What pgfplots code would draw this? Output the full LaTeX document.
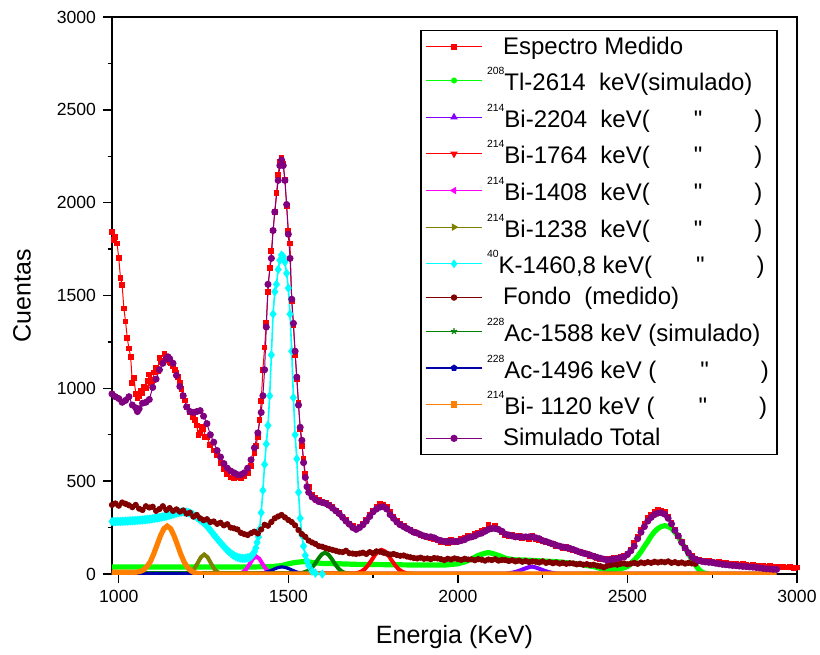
\documentclass[border=0pt]{standalone}
\usepackage{fontspec}
\setmainfont{Liberation Sans}
\setmonofont{Liberation Sans}
\usepackage{pgfplots}
\pgfplotsset{compat=1.18}
\definecolor{cRed}{RGB}{255,0,0}
\definecolor{cGreen}{RGB}{0,255,0}
\definecolor{cViolet}{RGB}{128,0,255}
\definecolor{cMagenta}{RGB}{255,0,255}
\definecolor{cOlive}{RGB}{128,128,0}
\definecolor{cCyan}{RGB}{0,255,255}
\definecolor{cMaroon}{RGB}{128,0,0}
\definecolor{cDkGreen}{RGB}{0,128,0}
\definecolor{cNavy}{RGB}{0,0,170}
\definecolor{cOrange}{RGB}{255,128,0}
\definecolor{cPurple}{RGB}{128,0,128}
\newcommand\iso[1]{\raisebox{8pt}{\fontsize{5.2}{6}\selectfont #1}}
\newcommand\q{\hspace{22pt}\texttt{"}\hspace{26pt})}
\begin{document}
\begin{tikzpicture}
\begin{axis}[
    scale only axis, width=342.5pt, height=278.5pt,
    xmin=980, xmax=3000, ymin=0, ymax=3000,
    xtick={1000,1500,2000,2500,3000}, ytick={0,500,1000,1500,2000,2500,3000},
    minor x tick num=1, minor y tick num=1,
    tick pos=left, tick align=outside,
    major tick length=4.5pt, minor tick length=2.2pt,
    every tick/.style={black, line width=0.7pt},
    axis line style={line width=0.8pt},
    /pgf/number format/assume math mode=true,
    /pgf/number format/1000 sep={},
    ticklabel style={font=\fontsize{8.8}{10}\selectfont},
    xlabel={Energia (KeV)}, ylabel={Cuentas},
    every axis x label/.style={at={(axis description cs:0.5,0)}, yshift=-31.5pt, anchor=center,
        font=\fontsize{12.5}{15}\selectfont},
    every axis y label/.style={at={(axis description cs:0,0.5)}, xshift=-45pt, rotate=90, anchor=center,
        font=\fontsize{12.5}{15}\selectfont},
    legend cell align=left,
    legend image code/.code={\draw[mark repeat=2,mark phase=2] plot coordinates {(0cm,0cm) (0.5cm,0cm) (1cm,0cm)};},
    legend image post style={line width=0.6pt},
    legend style={at={(0.972,0.977)}, anchor=north east, draw=black, line width=0.8pt,
        font=\fontsize{12}{14}\selectfont, row sep=1.2pt, inner xsep=2pt, inner ysep=1pt},
]
% Espectro medido
\addplot[cRed, line width=0.5pt, mark=square*, mark size=1.2pt] coordinates {
(980,1840) (985,1800) (990,1815) (995,1780) (1000,1700) (1005,1595) (1010,1555) (1015,1430) (1020,1360)
(1025,1270) (1030,1215) (1035,1170) (1040,1030) (1045,1055) (1050,970) (1055,947) (1060,960) (1065,985)
(1070,975) (1075,1010) (1080,1000) (1085,1040) (1090,1075) (1095,1030) (1100,1045) (1105,1085) (1110,1110)
(1115,1095) (1120,1165) (1125,1140) (1130,1150) (1135,1185) (1140,1165) (1145,1150) (1150,1140) (1155,1135)
(1160,1120) (1165,1100) (1170,1085) (1175,1060) (1180,1030) (1185,995) (1190,960) (1195,935) (1200,900)
(1210,870) (1220,845) (1225,830) (1230,800) (1235,750) (1240,760) (1245,790) (1250,780) (1255,740) (1260,735)
(1270,695) (1280,665) (1290,640) (1300,600) (1310,565) (1320,540) (1330,520) (1340,515) (1350,520)
(1360,515) (1370,525) (1380,545) (1390,580) (1400,650) (1405,690) (1410,740) (1415,830) (1420,930)
(1425,1100) (1430,1220) (1435,1350) (1440,1520) (1445,1650) (1450,1740) (1455,1850) (1460,1950)
(1465,2050) (1470,2150) (1475,2220) (1480,2240) (1485,2210) (1490,2120) (1495,1980) (1500,1850)
(1505,1780) (1510,1470) (1515,1340) (1520,1180) (1525,1050) (1530,920) (1535,780) (1540,690) (1545,620)
(1550,540) (1560,470) (1570,425) (1580,408) (1590,398) (1600,390) (1610,385) (1620,372) (1630,360)
(1640,342) (1650,330) (1660,310) (1670,290) (1680,272) (1690,258) (1700,245) (1710,255) (1720,272)
(1730,292) (1740,318) (1750,342) (1760,362) (1770,378) (1780,372) (1790,360) (1800,335) (1810,310)
(1820,288) (1830,270) (1840,258) (1850,245) (1860,238) (1870,228) (1880,218) (1890,212) (1900,205)
(1910,198) (1920,192) (1930,186) (1940,180) (1950,172) (1960,178) (1970,168) (1980,182) (1990,172)
(2000,178) (2010,190) (2020,196) (2030,205) (2040,200) (2050,215) (2060,222) (2070,230) (2080,240)
(2090,262) (2100,250) (2110,258) (2120,240) (2130,228) (2140,212) (2150,205) (2160,210) (2170,198)
(2180,204) (2190,192) (2200,202) (2210,188) (2220,205) (2230,190) (2240,185) (2250,178) (2260,172)
(2270,165) (2280,160) (2290,150) (2300,148) (2310,140) (2320,145) (2330,132) (2340,130) (2350,122)
(2360,118) (2370,112) (2380,108) (2390,98) (2400,95) (2410,88) (2420,82) (2430,78) (2440,80) (2450,75)
(2460,85) (2470,82) (2480,90) (2490,95) (2500,110) (2510,130) (2520,165) (2530,200) (2540,240)
(2550,270) (2560,300) (2570,318) (2580,332) (2590,345) (2600,338) (2610,335) (2620,310) (2630,275)
(2640,240) (2650,205) (2660,172) (2670,140) (2680,115) (2690,95) (2700,82) (2710,78) (2720,72)
(2730,70) (2740,68) (2750,66) (2760,62) (2770,64) (2780,58) (2790,60) (2800,56) (2810,55) (2820,52)
(2830,50) (2840,52) (2850,48) (2860,46) (2870,48) (2880,44) (2890,42) (2900,44) (2910,40) (2920,42)
(2930,38) (2940,40) (2950,37) (2960,38) (2970,35) (2980,37) (2990,34) (3000,35)
};
\addlegendentry{\hspace{8pt}Espectro Medido}
% 208Tl-2614
\addplot[cGreen, line width=2.6pt, mark=none,
    legend image post style={line width=0.6pt, mark=*, mark size=1.2pt}] coordinates {
(980,38) (1100,38) (1200,38) (1300,38) (1400,38) (1450,40) (1480,45) (1500,55) (1520,62) (1540,66)
(1560,65) (1580,60) (1600,57) (1650,55) (1700,52) (1800,50) (1900,48) (1960,48) (2000,55) (2020,65)
(2040,80) (2060,100) (2080,112) (2090,115) (2100,112) (2120,100) (2140,85) (2160,78) (2180,75)
(2200,75) (2250,70) (2300,65) (2350,55) (2400,40) (2420,30) (2440,25) (2460,25) (2480,28) (2500,40)
(2510,55) (2520,75) (2530,95) (2540,120) (2550,148) (2560,175) (2570,205) (2580,228) (2590,245)
(2600,256) (2610,260) (2620,256) (2630,245) (2640,225) (2650,200) (2660,170) (2670,140) (2680,108)
(2690,78) (2700,50) (2710,25) (2720,10) (2730,3) (2740,0)
};
\addlegendentry{\iso{208}Tl-2614\ \ keV(simulado)}
% 214Bi-2204
\addplot[cViolet, line width=2pt, mark=none,
    legend image post style={line width=0.6pt, mark=triangle*, mark size=1.6pt}] coordinates {
(980,2) (1500,2) (2000,2) (2140,2) (2150,4) (2160,7) (2170,11) (2180,17) (2190,24) (2200,31) (2210,37)
(2218,40) (2226,37) (2236,31) (2246,24) (2256,17) (2266,11) (2276,7) (2286,4) (2296,2) (2500,2) (2940,2)
};
\addlegendentry{\iso{214}Bi-2204\ \ keV(\q}
% 214Bi-1764
\addplot[cRed, line width=2pt, mark=none,
    legend image post style={line width=0.6pt, mark=triangle*, mark options={rotate=180}, mark size=1.6pt}] coordinates {
(980,3) (1300,3) (1695,3) (1705,6) (1715,13) (1725,26) (1735,47) (1745,73) (1755,101) (1765,122)
(1775,130) (1785,122) (1795,101) (1805,73) (1815,47) (1825,26) (1835,13) (1845,6) (1855,2) (1870,0)
(2400,0) (2940,0)
};
\addlegendentry{\iso{214}Bi-1764\ \ keV(\q}
% 214Bi-1408
\addplot[cMagenta, line width=2pt, mark=none,
    legend image post style={line width=0.6pt, mark=triangle*, mark options={rotate=90}, mark size=1.6pt}] coordinates {
(980,2) (1200,2) (1355,2) (1365,8) (1375,24) (1385,51) (1395,81) (1405,95) (1415,81) (1425,51)
(1435,24) (1445,8) (1455,2) (1480,0) (2000,0) (2940,0)
};
\addlegendentry{\iso{214}Bi-1408\ \ keV(\q}
% 214Bi-1238
\addplot[cOlive, line width=2pt, mark=none,
    legend image post style={line width=0.6pt, mark=triangle*, mark options={rotate=-90}, mark size=1.6pt}] coordinates {
(980,3) (1100,3) (1200,3) (1212,9) (1222,26) (1232,57) (1242,90) (1252,105) (1262,90) (1272,57)
(1282,26) (1292,9) (1302,3) (1400,3) (1420,0) (2000,0) (2940,0)
};
\addlegendentry{\iso{214}Bi-1238\ \ keV(\q}
% 40K-1460,8
\addplot[cCyan, line width=0.8pt, mark=diamond*, mark size=1.7pt] coordinates {
(980,282) (985,282) (990,282) (995,283) (1000,283) (1005,283) (1010,284) (1015,284) (1020,285) (1025,285)
(1030,286) (1035,286) (1040,287) (1045,287) (1050,288) (1055,289) (1060,290) (1065,290) (1070,291)
(1075,292) (1080,293) (1085,294) (1090,295) (1095,296) (1100,298) (1105,299) (1110,301) (1115,302)
(1120,304) (1125,306) (1130,308) (1135,310) (1140,312) (1145,314) (1150,317) (1155,319) (1160,322)
(1165,325) (1170,328) (1175,330) (1180,333) (1185,334) (1190,335) (1195,334) (1200,333) (1205,331)
(1210,328) (1215,323) (1220,318) (1225,312) (1230,306) (1235,299) (1240,292) (1245,285) (1250,278)
(1255,268) (1260,258) (1265,247) (1270,235) (1275,224) (1280,212) (1285,201) (1290,190) (1295,179)
(1300,168) (1305,158) (1310,148) (1315,138) (1320,128) (1325,120) (1330,112) (1335,105) (1340,99)
(1345,94) (1350,90) (1355,87) (1360,85) (1365,84) (1370,84) (1375,85) (1380,87) (1385,90) (1390,95)
(1395,105) (1400,120) (1404,140) (1408,170) (1412,200) (1415,240) (1420,330) (1425,450) (1430,590)
(1435,700) (1440,800) (1445,960) (1450,1180) (1455,1400) (1460,1520) (1465,1560) (1470,1640)
(1475,1690) (1480,1718) (1485,1710) (1490,1680) (1495,1620) (1500,1540) (1505,1400) (1510,1200)
(1515,950) (1520,750) (1525,620) (1530,440) (1535,300) (1540,210) (1545,150) (1550,100) (1555,70)
(1560,45) (1570,15) (1580,5) (1600,0)
};
\addlegendentry{\iso{40}K-1460,8 keV(\q}
% Fondo medido
\addplot[cMaroon, line width=0.5pt, mark=*, mark size=1.3pt] coordinates {
(980,372) (990,380) (1000,368) (1010,385) (1020,378) (1030,370) (1040,360) (1050,372) (1060,352)
(1070,345) (1080,365) (1090,358) (1100,362) (1110,340) (1120,350) (1130,365) (1140,345) (1150,355)
(1160,340) (1170,348) (1180,336) (1190,342) (1200,325) (1210,330) (1220,309) (1230,318) (1240,300)
(1250,290) (1260,295) (1270,280) (1280,283) (1290,270) (1300,276) (1310,262) (1320,268) (1330,250)
(1340,246) (1350,240) (1360,222) (1370,215) (1380,210) (1390,220) (1400,228) (1410,218) (1420,240)
(1430,265) (1440,260) (1450,280) (1460,300) (1470,310) (1480,318) (1490,305) (1500,291) (1510,280)
(1520,262) (1530,237) (1540,215) (1550,200) (1560,180) (1570,170) (1580,162) (1590,150) (1600,147)
(1610,140) (1620,135) (1630,130) (1640,125) (1650,120) (1660,118) (1670,125) (1680,112) (1690,110)
(1700,108) (1710,111) (1720,115) (1730,108) (1740,118) (1750,112) (1760,122) (1770,120) (1780,115)
(1790,110) (1800,105) (1810,108) (1820,102) (1830,98) (1840,100) (1850,94) (1860,90) (1870,86)
(1880,84) (1890,88) (1900,82) (1910,84) (1920,80) (1930,86) (1940,84) (1950,80) (1960,75) (1970,82)
(1980,78) (1990,84) (2000,80) (2010,76) (2020,82) (2030,78) (2040,79) (2050,74) (2060,80) (2070,77)
(2080,72) (2090,78) (2100,75) (2110,80) (2120,72) (2130,76) (2140,75) (2150,70) (2160,74) (2170,68)
(2180,72) (2190,66) (2200,70) (2210,64) (2220,68) (2230,66) (2240,62) (2250,68) (2260,60) (2270,64)
(2280,58) (2290,62) (2300,56) (2310,60) (2320,55) (2330,58) (2340,57) (2350,52) (2360,55) (2370,50)
(2380,53) (2390,48) (2400,50) (2410,45) (2420,42) (2430,36) (2440,44) (2450,48) (2460,52) (2470,50)
(2480,55) (2490,57) (2500,52) (2510,56) (2520,60) (2530,55) (2540,62) (2550,58) (2560,64) (2570,60)
(2580,66) (2590,62) (2600,66) (2610,63) (2620,68) (2630,60) (2640,64) (2650,58) (2660,62) (2670,56)
(2680,60) (2690,57) (2700,55)
};
\addlegendentry{\hspace{8pt}Fondo\ \ (medido)}
% 228Ac-1588
\addplot[cDkGreen, line width=2pt, mark=none,
    legend image post style={line width=0.6pt, mark=star, mark size=1.6pt}] coordinates {
(980,5) (1200,5) (1400,5) (1530,5) (1540,6) (1548,10) (1558,17) (1568,30) (1578,53) (1588,81) (1598,105)
(1608,115) (1618,105) (1628,81) (1638,53) (1648,29) (1658,13) (1668,5) (1678,2) (1700,0) (2300,0) (2940,0)
};
\addlegendentry{\iso{228}Ac-1588 keV (simulado)}
% 228Ac-1496
\addplot[cNavy, line width=1.6pt, mark=none,
    legend image post style={line width=0.6pt, mark=pentagon*, mark size=1.4pt}] coordinates {
(980,3) (1200,3) (1400,3) (1420,5) (1430,8) (1440,13) (1450,20) (1460,28) (1470,35) (1480,38) (1490,36)
(1500,30) (1510,22) (1520,14) (1530,8) (1540,5) (1560,3) (2000,3) (2500,3) (2940,3)
};
\addlegendentry{\iso{228}Ac-1496 keV (\q}
% 214Bi-1120
\addplot[cOrange, line width=2.6pt, mark=none,
    legend image post style={line width=0.6pt, mark=square*, mark size=1.3pt}] coordinates {
(980,9) (1000,9) (1020,9) (1040,9) (1053,10) (1063,14) (1073,22) (1083,40) (1093,66) (1103,108)
(1113,157) (1123,206) (1133,244) (1143,258) (1153,244) (1163,206) (1173,157) (1183,106) (1193,64)
(1203,35) (1213,17) (1223,7) (1233,3) (1243,1) (1260,0) (1600,0) (2000,0) (2500,0) (2940,0)
};
\addlegendentry{\iso{214}Bi- 1120 keV (\q}
% Simulado total
\addplot[cPurple, line width=0.5pt, mark=*, mark size=1.5pt] coordinates {
(980,970) (990,955) (1000,945) (1010,925) (1020,935) (1030,955) (1040,910) (1050,895) (1055,875)
(1060,890) (1070,920) (1080,925) (1090,940) (1100,1005) (1110,1050) (1120,1100) (1130,1135) (1140,1160)
(1145,1170) (1150,1160) (1160,1135) (1170,1070) (1180,1010) (1190,960) (1200,900) (1210,875) (1220,870)
(1230,875) (1240,880) (1250,850) (1260,810) (1270,750) (1280,710) (1290,665) (1300,630) (1310,595)
(1320,570) (1330,555) (1340,545) (1350,535) (1360,535) (1370,545) (1380,570) (1390,615) (1400,680)
(1410,760) (1420,870) (1425,960) (1430,1100) (1435,1330) (1440,1560) (1450,1700) (1455,1850)
(1460,1950) (1470,2120) (1475,2200) (1480,2230) (1485,2200) (1490,2120) (1495,1990) (1500,1830)
(1505,1700) (1510,1480) (1515,1350) (1520,1200) (1525,1060) (1530,910) (1535,790) (1540,720)
(1545,600) (1550,520) (1555,470) (1560,440) (1570,415) (1580,400) (1590,390) (1600,385) (1610,380)
(1620,370) (1630,355) (1640,340) (1650,325) (1660,305) (1670,285) (1680,268) (1690,250) (1700,240)
(1710,250) (1720,265) (1730,285) (1740,310) (1750,335) (1760,350) (1770,360) (1780,362) (1790,350)
(1800,320) (1810,300) (1820,280) (1830,265) (1840,255) (1850,245) (1860,235) (1870,225) (1880,220)
(1890,212) (1900,205) (1910,200) (1920,200) (1930,195) (1940,185) (1950,180) (1960,175) (1970,175)
(1980,175) (1990,175) (2000,175) (2010,180) (2020,185) (2030,195) (2040,200) (2050,205) (2060,215)
(2070,220) (2080,230) (2090,240) (2100,245) (2110,245) (2120,240) (2130,230) (2140,215) (2150,210)
(2160,205) (2170,200) (2180,200) (2190,200) (2200,200) (2210,200) (2220,200) (2230,195) (2240,190)
(2250,180) (2260,175) (2270,168) (2280,162) (2290,155) (2300,150) (2310,145) (2320,142) (2330,138)
(2340,132) (2350,125) (2360,118) (2370,112) (2380,108) (2390,102) (2400,95) (2410,90) (2420,85)
(2430,80) (2440,75) (2450,78) (2460,80) (2470,84) (2480,88) (2490,92) (2500,105) (2510,125) (2520,150)
(2530,190) (2540,225) (2550,255) (2560,285) (2570,305) (2580,320) (2590,328) (2600,330) (2610,322)
(2620,300) (2630,270) (2640,235) (2650,205) (2660,170) (2670,140) (2680,115) (2690,92) (2700,80)
(2710,72) (2720,68) (2730,65) (2740,63) (2750,62) (2760,58) (2770,55) (2780,52) (2790,50) (2800,48)
(2810,46) (2820,45) (2830,43) (2840,41) (2850,40) (2860,38) (2870,37) (2880,35) (2890,33) (2900,30)
(2910,28) (2920,27) (2930,25) (2940,25)
};
\addlegendentry{\hspace{8pt}Simulado Total}
\end{axis}
\pgfresetboundingbox
\path ([xshift=-56pt,yshift=-40pt]current axis.south west) rectangle ([xshift=11.5pt,yshift=8.5pt]current axis.north east);
\end{tikzpicture}
\end{document}
